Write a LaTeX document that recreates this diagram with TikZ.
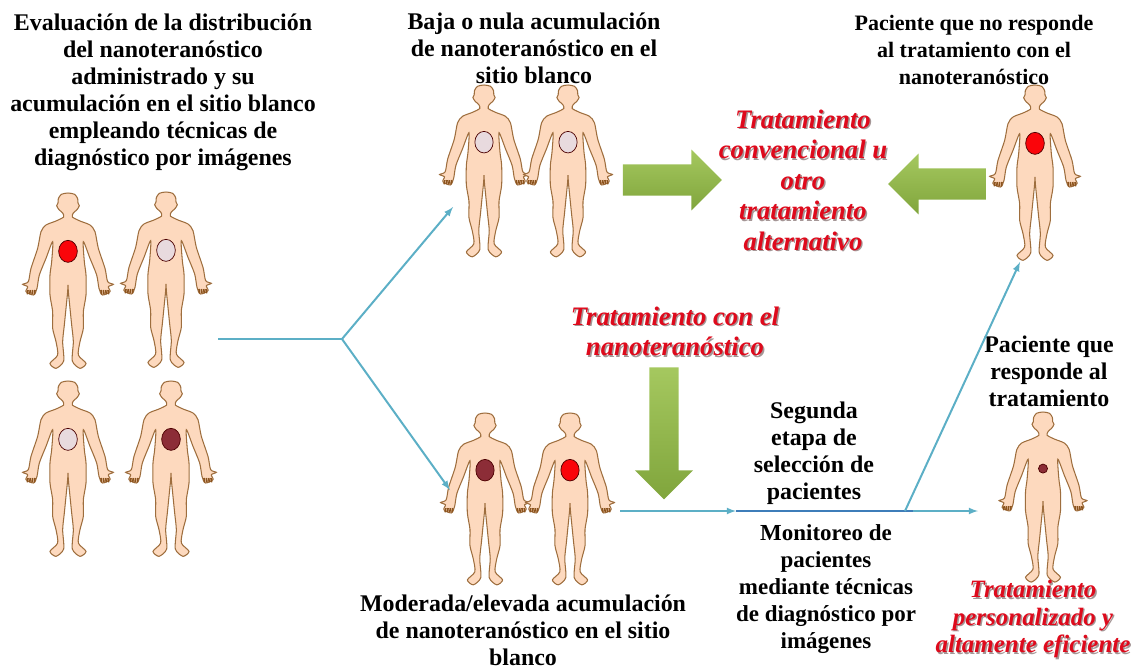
\documentclass[tikz,border=0pt]{standalone}
\usepackage{xcolor}
\usepackage{fontspec}
\setmainfont{Liberation Serif}
\usetikzlibrary{shapes,arrows,positioning}
\definecolor{skintone}{RGB}{253, 217, 190}
\definecolor{skinline}{RGB}{158, 110, 62}
\definecolor{fingerbrown}{RGB}{140, 84, 30}
\definecolor{organred}{RGB}{250, 5, 10}
\definecolor{organpale}{RGB}{232, 218, 222}
\definecolor{organdark}{RGB}{140, 45, 55}
\definecolor{linkteal}{RGB}{92, 175, 198}
\definecolor{linkblue}{RGB}{62, 125, 185}
\definecolor{arrowlight}{RGB}{165, 200, 95}
\definecolor{arrowgreen}{RGB}{128, 165, 60}
\definecolor{labelred}{RGB}{222, 10, 28}
\definecolor{labelshade}{RGB}{165, 150, 150}

\newcommand{\shadowline}[1]{\leavevmode\rlap{\kern1.2pt\raisebox{-1.2pt}{\textcolor{labelshade}{#1}}}#1}

\tikzset{
    blacktext/.style={font=\fontsize{20.4}{23}\selectfont\bfseries,align=center,inner sep=0pt},
    redtext/.style={font=\fontsize{22.8}{26}\selectfont\bfseries\itshape,text=labelred,align=center,inner sep=0pt},
    link/.style={linkteal,line width=1.7pt},
    linkarrow/.style={link,-latex},
    greenarrow/.style={single arrow,single arrow head extend=0.44cm,single arrow head indent=0pt,
        inner sep=0.465cm,top color=arrowlight,bottom color=arrowgreen},
    pics/body/.style n args={3}{code={
        \begin{scope}[scale=1/3]
        \draw[skinline,line width=0.9pt,fill=skintone] plot[smooth cycle,tension=0.45] coordinates {
            (0,0) (20,4) (29,17) (30,30) (34,38) (27,50) (16,60) (13,72) (36,84) (66,96)
            (81,116) (91,166) (111,226) (119,266) (136,274) (121,281) (126,296) (103,306) (93,286)
            (86,246) (66,196) (46,146) (49,206) (54,246) (54,306) (46,356) (46,406) (36,446) (31,486)
            (54,511) (36,526) (13,504) (16,446) (11,396) (6,346) (1,296) (0,276)
            (-1,296) (-6,346) (-11,396) (-16,446) (-13,504) (-36,526) (-54,511)
            (-31,486) (-36,446) (-46,406) (-46,356) (-54,306) (-54,246) (-49,206) (-46,146) (-66,196)
            (-86,246) (-93,286) (-103,306) (-126,296) (-121,281) (-136,274) (-119,266) (-111,226)
            (-91,166) (-81,116) (-66,96) (-36,84) (-13,72) (-16,60) (-27,50) (-34,38) (-30,30) (-29,17) (-20,4)};
        % fingers
        \foreach \side in {1,-1} {
            \foreach \fx in {99,106,113,120} {
                \draw[fingerbrown,line width=1.4pt] (\side*\fx,291) -- (\side*\fx+\side*2,304);
            }
        }
        \draw[black!70!red,line width=0.6pt,fill=#1] (0,175) ellipse [x radius=#2,y radius=#3];
        \end{scope}
    }}
}

\begin{document}
\begin{tikzpicture}[x=0.03cm,y=-0.03cm]
    \useasboundingbox (0,0) rectangle (1136,670);

    % Left group of patients
    \pic at (68,193) {body={organred}{28}{33}};
    \pic at (166,192) {body={organpale}{28}{33}};
    \pic at (68,381) {body={organpale}{28}{33}};
    \pic at (171,381) {body={organdark}{28}{33}};

    % Low accumulation
    \pic[scale=0.98] at (484,85) {body={organpale}{28}{33}};
    \pic[scale=0.98] at (568,85) {body={organpale}{28}{33}};

    % Moderate or high accumulation
    \pic[scale=0.98] at (485,413) {body={organdark}{28}{33}};
    \pic[scale=0.98] at (570,413) {body={organred}{28}{33}};

    % Patients on the right
    \pic at (1035,85) {body={organred}{28}{33}};
    \pic[scale=0.97] at (1043,412) {body={organdark}{14}{14}};

    % Black labels
    \node[blacktext] (evaluacion) at (163,92) {Evaluación de la distribución\\del nanoteranóstico\\administrado y su\\acumulación en el sitio blanco\\empleando técnicas de\\diagnóstico por imágenes};
    \node[blacktext] (baja) at (534,48) {Baja o nula acumulación\\de nanoteranóstico en el\\sitio blanco};
    \node[blacktext,font=\fontsize{18.8}{23}\selectfont\bfseries] (noresponde) at (974,50) {Paciente que no responde\\al tratamiento con el\\nanoteranóstico};
    \node[blacktext] (responde) at (1049,371) {Paciente que\\responde al\\tratamiento};
    \node[blacktext] (segunda) at (814,453) {Segunda\\etapa de\\selección de\\pacientes};
    \node[blacktext,font=\fontsize{19.6}{23}\selectfont\bfseries] (monitoreo) at (826,589) {Monitoreo de\\pacientes\\mediante técnicas\\de diagnóstico por\\imágenes};
    \node[blacktext] (moderada) at (523,630) {Moderada/elevada acumulación\\de nanoteranóstico en el sitio\\blanco};

    % Red labels
    \node[redtext] (convencional) at (803,181) {\shadowline{Tratamiento}\\\shadowline{convencional u}\\\shadowline{otro}\\\shadowline{tratamiento}\\\shadowline{alternativo}};
    \node[redtext] (connano) at (675,332) {\shadowline{Tratamiento con el}\\\shadowline{nanoteranóstico}};
    \node[redtext,font=\fontsize{21.3}{23.5}\selectfont\bfseries\itshape] (personalizado) at (1033,620) {\shadowline{Tratamiento}\\\shadowline{personalizado y}\\\shadowline{altamente eficiente}};

    % Green block arrows
    \node[greenarrow,minimum height=2.97cm] (flechabaja) at (664.5,180) {};
    \node[greenarrow,minimum height=2.94cm,shape border rotate=180] (flechano) at (945,184) {};
    \node[greenarrow,minimum height=3.96cm,inner sep=0.435cm,single arrow head extend=0.43cm,shape border rotate=270] (flechanano) at (664,426) {};

    % Connector end points
    \coordinate (inicio) at (218,339);
    \coordinate (fork) at (342,339);
    \coordinate (finbaja) at (453,207);
    \coordinate (finmoderada) at (450,490);
    \coordinate (salida) at (620,511);
    \coordinate (etapa) at (736,511);
    \coordinate (cruce) at (888,511);
    \coordinate (subida) at (905,511);
    \coordinate (marca) at (913,511);
    \coordinate (finresponde) at (978,511);
    \coordinate (finnoresponde) at (1020,262);

    % Connectors
    \draw[link] (inicio) -- (fork);
    \draw[linkarrow] (fork) -- (finbaja);
    \draw[linkarrow] (fork) -- (finmoderada);
    \draw[linkarrow] (salida) -- (etapa);
    \draw[linkblue,line width=1.2pt] (etapa) -- (cruce);
    \draw[linkarrow] (cruce) -- (finresponde);
    \draw[linkblue,line width=1.6pt] (cruce) -- (marca);
    \draw[linkarrow] (subida) -- (finnoresponde);
\end{tikzpicture}
\end{document}
